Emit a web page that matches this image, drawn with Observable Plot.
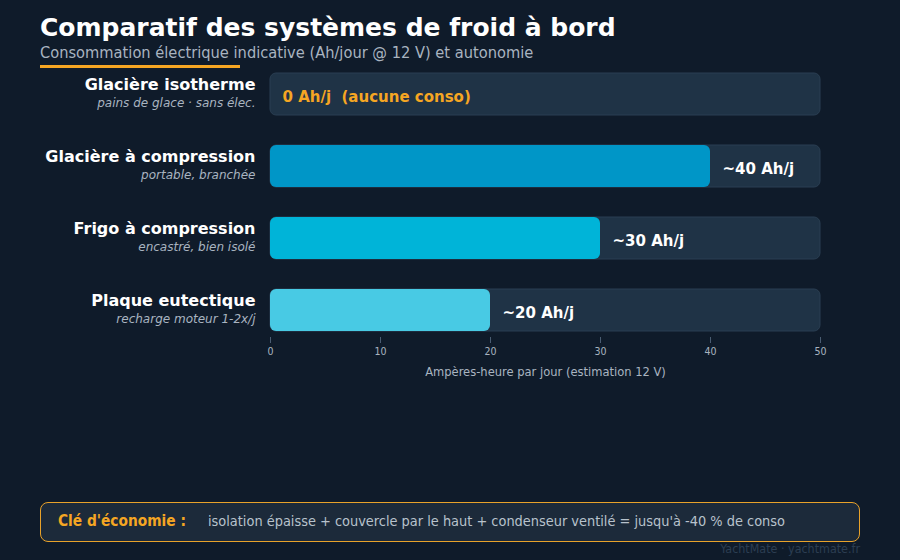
<!DOCTYPE html>
<html>
<head>
<meta charset="utf-8">
<script src="https://cdn.jsdelivr.net/npm/d3@7"></script>
<script src="https://cdn.jsdelivr.net/npm/@observablehq/plot@0.6"></script>
<style>
  html, body { margin: 0; padding: 0; background: #0f1b2a; }
  #wrap { position: relative; width: 900px; height: 560px; overflow: hidden; background: #0f1b2a; font-family: "DejaVu Sans", sans-serif; }
  #title { position: absolute; left: 40px; top: 13px; font-size: 25px; font-weight: bold; color: #ffffff; margin: 0; white-space: nowrap; }
  #subtitle { position: absolute; left: 40px; top: 43px; font-family: "DejaVu Sans Condensed", "DejaVu Sans", sans-serif; font-size: 16.3px; color: #a9b4c0; white-space: nowrap; }
  #rule { position: absolute; left: 40px; top: 65px; width: 200px; height: 3px; background: #f5a623; }
  #chart { position: absolute; left: 0; top: 62px; }
  #note { position: absolute; left: 40px; top: 502px; width: 820px; height: 40px; border: 1.5px solid #e8a22a; border-radius: 8px; background: #1c2a3a; box-sizing: border-box; }
  #note .k { position: absolute; left: 17px; top: 9px; font-family: "DejaVu Sans Condensed", "DejaVu Sans", sans-serif; font-weight: bold; font-size: 15.3px; color: #f5a623; white-space: nowrap; }
  #note .v { position: absolute; left: 167px; top: 10px; font-family: "DejaVu Sans Condensed", "DejaVu Sans", sans-serif; font-size: 14.4px; color: #b8c2cc; white-space: nowrap; }
  #credit { position: absolute; right: 40px; top: 541px; font-family: "DejaVu Sans Condensed", "DejaVu Sans", sans-serif; font-size: 12.4px; color: #2c3e52; white-space: nowrap; }
</style>
</head>
<body>
<div id="wrap">
  <div id="title">Comparatif des systèmes de froid à bord</div>
  <div id="subtitle">Consommation électrique indicative (Ah/jour @ 12 V) et autonomie</div>
  <div id="chart"></div>
  <div id="rule"></div>
  <div id="note"><span class="k">Clé d'économie :</span><span class="v">isolation épaisse + couvercle par le haut + condenseur ventilé = jusqu'à -40 % de conso</span></div>
  <div id="credit">YachtMate · yachtmate.fr</div>
</div>
<script>
const systems = ["Glacière isotherme", "Glacière à compression", "Frigo à compression", "Plaque eutectique"];
const details = ["pains de glace · sans élec.", "portable, branchée", "encastré, bien isolé", "recharge moteur 1-2x/j"];
const ahPerDay = [0, 40, 30, 20];
const valueLabels = ["0 Ah/j  (aucune conso)", "~40 Ah/j", "~30 Ah/j", "~20 Ah/j"];
const barColors = ["#1f3346", "#0096c7", "#00b4d8", "#48cae4"];
const xMax = 50;
const xTicks = [0, 10, 20, 30, 40, 50];
const xLabel = "Ampères-heure par jour (estimation 12 V)";

const rows = systems.map((s, i) => ({
  system: s, detail: details[i], value: ahPerDay[i], label: valueLabels[i], color: barColors[i], max: xMax
}));

const chart = Plot.plot({
  width: 900,
  height: 320,
  marginLeft: 270,
  marginRight: 80,
  marginTop: 5,
  marginBottom: 45,
  style: { background: "transparent", color: "#a9b4c0", fontFamily: "DejaVu Sans, sans-serif" },
  x: { domain: [0, xMax], ticks: xTicks, label: null },
  y: { domain: systems, paddingInner: 30 / 72, paddingOuter: 6 / 72, axis: null },
  marks: [
    Plot.barX(rows, { x1: 0, x2: "max", y: "system", fill: "#1f3346", stroke: "#2a3e52", strokeWidth: 1, rx: 6 }),
    Plot.barX(rows.filter(d => d.value > 0), { x1: 0, x2: "value", y: "system", fill: "color", rx: 6 }),
    Plot.text(rows, { x: 0, y: "system", text: "system", dx: -15, dy: -10, textAnchor: "end", fill: "#ffffff", fontWeight: "bold", fontSize: 16, fontFamily: "DejaVu Sans" }),
    Plot.text(rows, { x: 0, y: "system", text: "detail", dx: -15, dy: 9, textAnchor: "end", fill: "#a9b4c0", fontStyle: "italic", fontSize: 12, fontFamily: "DejaVu Sans" }),
    Plot.text(rows, { x: "value", y: "system", text: "label", dx: 12, dy: 3, textAnchor: "start", fill: d => d.value === 0 ? "#f5a623" : "#ffffff", fontWeight: "bold", fontSize: 15, fontFamily: "DejaVu Sans" }),
    Plot.axisX({ ticks: xTicks, tickSize: 6, tickPadding: 4, stroke: "#4a5d72", fill: "#a9b4c0", fontSize: 10.5, fontFamily: "DejaVu Sans Condensed", label: null }),
    Plot.text([xLabel], { frameAnchor: "bottom", x: 25, text: d => d, dy: 38, fill: "#a9b4c0", fontSize: 12.8, fontFamily: "DejaVu Sans Condensed" })
  ]
});
document.getElementById("chart").appendChild(chart);
</script>
</body>
</html>
